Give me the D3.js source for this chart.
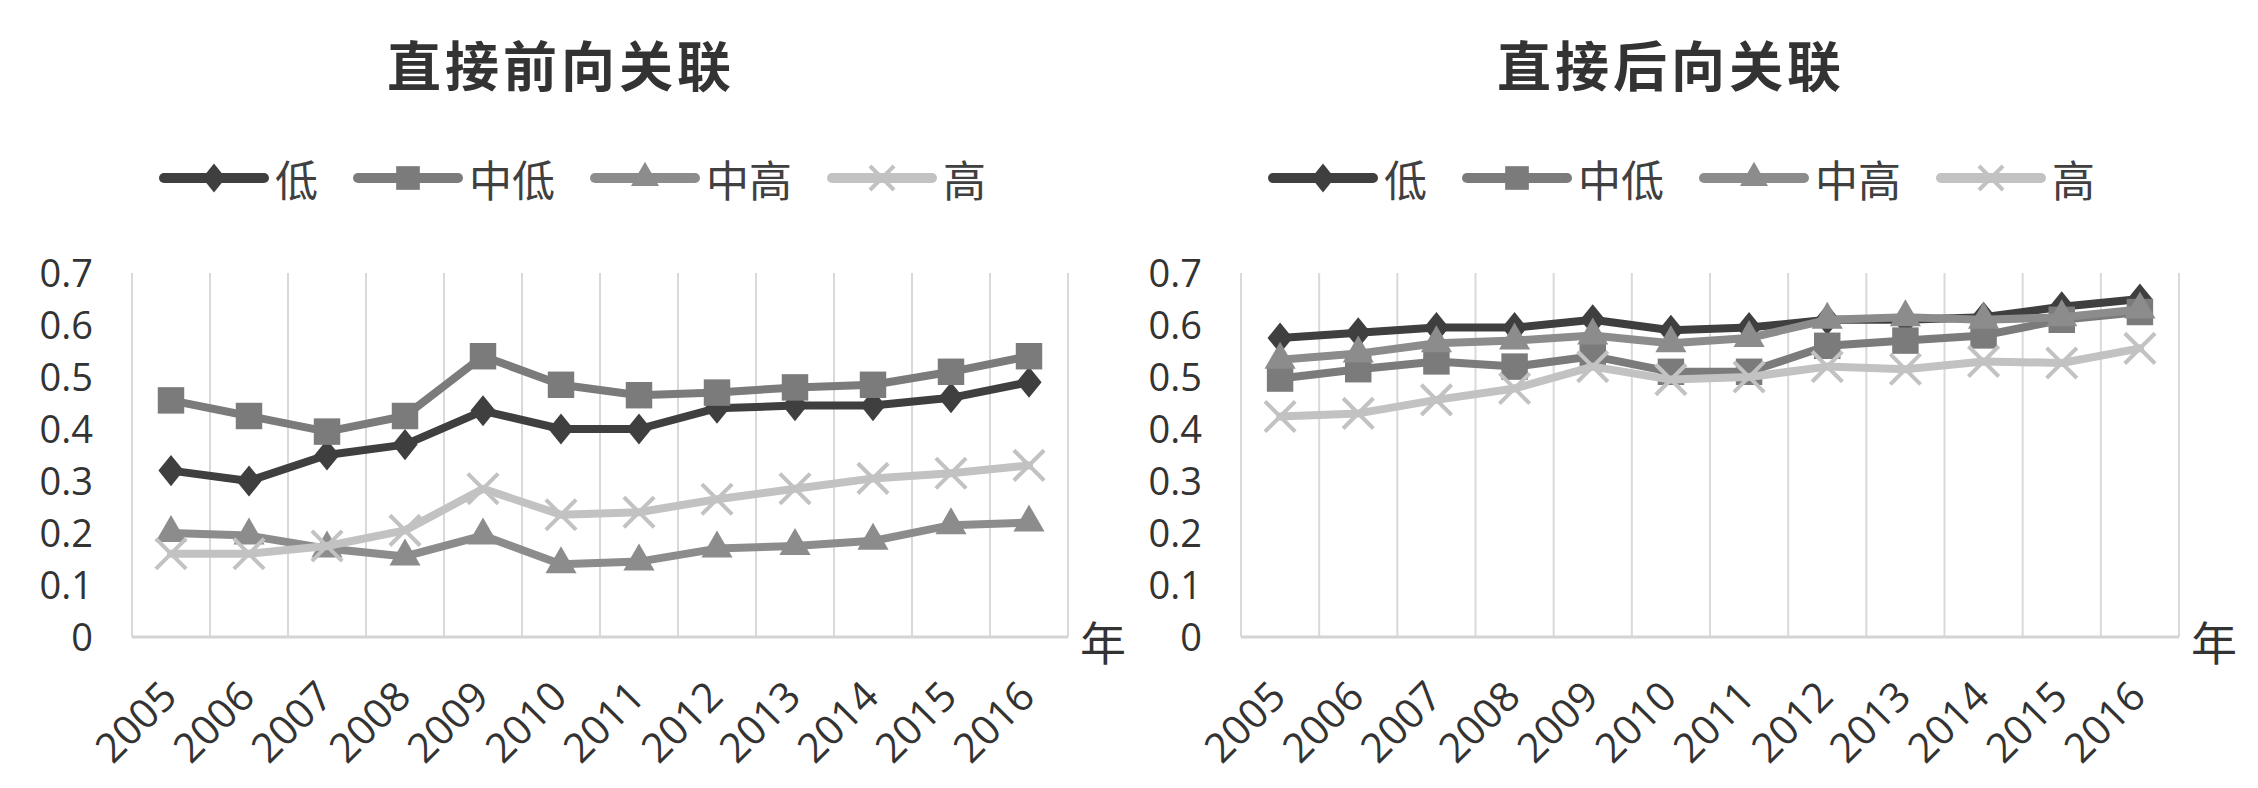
<!DOCTYPE html>
<html lang="zh">
<head>
<meta charset="UTF-8">
<title>直接前向关联 / 直接后向关联</title>
<script src="https://d3js.org/d3.v7.min.js"></script>
<style>
  body { margin: 0; background: #fff; }
  text { font-family: "Open Sans", "Noto Sans CJK SC", sans-serif; fill: #404040; }
  .cjk { font-family: "Noto Sans CJK SC", sans-serif; }
  .grid { stroke: #d9d9d9; stroke-width: 2; }
  .baseline { stroke: #d4d4d4; stroke-width: 3; }
</style>
</head>
<body>
<div id="chart"></div>
<script>
// categories and labels
const years = ["2005", "2006", "2007", "2008", "2009", "2010", "2011", "2012", "2013", "2014", "2015", "2016"];
const seriesNames = ["低", "中低", "中高", "高"];
const yTicks = [0, 0.1, 0.2, 0.3, 0.4, 0.5, 0.6, 0.7];

// 直接前向关联
const fwdLow     = [0.32, 0.30, 0.35, 0.37, 0.435, 0.40, 0.40, 0.44, 0.445, 0.445, 0.46, 0.49];
const fwdMidLow  = [0.455, 0.425, 0.395, 0.425, 0.54, 0.485, 0.465, 0.47, 0.48, 0.485, 0.51, 0.54];
const fwdMidHigh = [0.20, 0.195, 0.17, 0.155, 0.195, 0.14, 0.145, 0.17, 0.175, 0.185, 0.215, 0.22];
const fwdHigh    = [0.16, 0.16, 0.175, 0.205, 0.285, 0.235, 0.24, 0.265, 0.285, 0.305, 0.315, 0.33];

// 直接后向关联
const bwdLow     = [0.575, 0.585, 0.595, 0.595, 0.61, 0.59, 0.595, 0.61, 0.61, 0.615, 0.635, 0.65];
const bwdMidLow  = [0.497, 0.515, 0.53, 0.52, 0.54, 0.51, 0.51, 0.56, 0.57, 0.58, 0.61, 0.625];
const bwdMidHigh = [0.533, 0.545, 0.565, 0.57, 0.58, 0.565, 0.575, 0.61, 0.615, 0.61, 0.615, 0.63];
const bwdHigh    = [0.424, 0.43, 0.456, 0.478, 0.52, 0.495, 0.50, 0.52, 0.515, 0.53, 0.527, 0.555];

const W = 2258, H = 788;
const plotTop = 273, plotBottom = 637;

// line colour and marker per series (same order as seriesNames)
const looks = [
  { color: "#3f3f3f", type: d3.symbolDiamond, size: 280, legendSize: 240, sx: 1.4, stroke: false },
  { color: "#7b7b7b", type: d3.symbolSquare, size: 700, legendSize: 560, sx: 1, stroke: false },
  { color: "#8c8c8c", type: d3.symbolTriangle, size: 420, legendSize: 340, sx: 1, stroke: false },
  { color: "#c2c2c2", type: d3.symbolX, size: 600, legendSize: 380, sx: 1, stroke: true }
];

const svg = d3.select("#chart").append("svg")
  .attr("width", W)
  .attr("height", H);

function marker(g, look, size, cx, cy) {
  g.append("path")
    .attr("d", d3.symbol().type(look.type).size(size)())
    .attr("transform", `translate(${cx},${cy}) scale(${look.sx},1)`)
    .attr("fill", look.stroke ? "none" : look.color)
    .attr("stroke", look.stroke ? look.color : "none")
    .attr("stroke-width", look.stroke ? 4 : 0);
}

function drawPanel(title, series, x0, x1) {
  const g = svg.append("g");

  const x = d3.scaleBand().domain(years).range([x0, x1]);
  const y = d3.scaleLinear().domain([0, 0.7]).range([plotBottom, plotTop]);

  // title
  g.append("text")
    .attr("class", "cjk")
    .attr("x", (x0 + x1) / 2 - 39)
    .attr("y", 63)
    .attr("text-anchor", "middle")
    .attr("dominant-baseline", "central")
    .attr("font-size", 54)
    .attr("font-weight", "bold")
    .attr("letter-spacing", 4)
    .style("fill", "#333")
    .text(title);

  // legend
  let lx = x0 + 32;
  seriesNames.forEach((name, i) => {
    const look = looks[i];
    g.append("line")
      .attr("x1", lx).attr("x2", lx + 100)
      .attr("y1", 178).attr("y2", 178)
      .attr("stroke", look.color)
      .attr("stroke-width", 10)
      .attr("stroke-linecap", "round");
    marker(g, look, look.legendSize, lx + 50, 178);
    const t = g.append("text")
      .attr("class", "cjk")
      .attr("x", lx + 111)
      .attr("y", 178)
      .attr("dominant-baseline", "central")
      .attr("font-size", 43)
      .text(name);
    lx += 111 + t.node().getComputedTextLength() + 40;
  });

  // vertical gridlines on category edges
  const edges = years.map(d => x(d)).concat([x.range()[1]]);
  g.selectAll(".grid").data(edges).enter().append("line")
    .attr("class", "grid")
    .attr("x1", d => d).attr("x2", d => d)
    .attr("y1", plotTop).attr("y2", plotBottom);

  g.append("line")
    .attr("class", "baseline")
    .attr("x1", x0).attr("x2", x1)
    .attr("y1", plotBottom).attr("y2", plotBottom);

  // y axis labels
  const ya = g.append("g")
    .attr("transform", `translate(${x0 - 39},0)`)
    .call(d3.axisLeft(y).tickValues(yTicks).tickSize(0).tickPadding(0)
      .tickFormat(d => d === 0 ? "0" : d3.format(".1f")(d)));
  ya.select(".domain").remove();
  ya.attr("font-size", 38).attr("font-family", null);
  ya.selectAll("text").attr("dy", "0.36em").style("fill", "#333");

  // x axis labels, rotated
  const xa = g.append("g")
    .attr("transform", `translate(0,${plotBottom})`)
    .call(d3.axisBottom(x).tickSize(0));
  xa.select(".domain").remove();
  xa.attr("font-size", 41).attr("font-family", null);
  xa.selectAll("text")
    .attr("x", 0).attr("y", 0).attr("dy", 0)
    .attr("text-anchor", "end")
    .style("fill", "#333")
    .attr("transform", "translate(8,62) rotate(-45)");

  // axis unit
  g.append("text")
    .attr("class", "cjk")
    .attr("x", x1 + 35)
    .attr("y", 640)
    .attr("text-anchor", "middle")
    .attr("dominant-baseline", "central")
    .attr("font-size", 46)
    .style("fill", "#333")
    .text("年");

  // series
  const cx = (d, i) => x(years[i]) + x.bandwidth() / 2;
  const line = d3.line().x(cx).y(d => y(d));

  series.forEach((vals, s) => {
    const look = looks[s];
    g.append("path")
      .datum(vals)
      .attr("d", line)
      .attr("fill", "none")
      .attr("stroke", look.color)
      .attr("stroke-width", 8)
      .attr("stroke-linejoin", "round")
      .attr("stroke-linecap", "round");
    vals.forEach((v, i) => marker(g, look, look.size, cx(v, i), y(v)));
  });
}

drawPanel("直接前向关联", [fwdLow, fwdMidLow, fwdMidHigh, fwdHigh], 132, 1068);
drawPanel("直接后向关联", [bwdLow, bwdMidLow, bwdMidHigh, bwdHigh], 1241, 2179);
</script>
</body>
</html>
